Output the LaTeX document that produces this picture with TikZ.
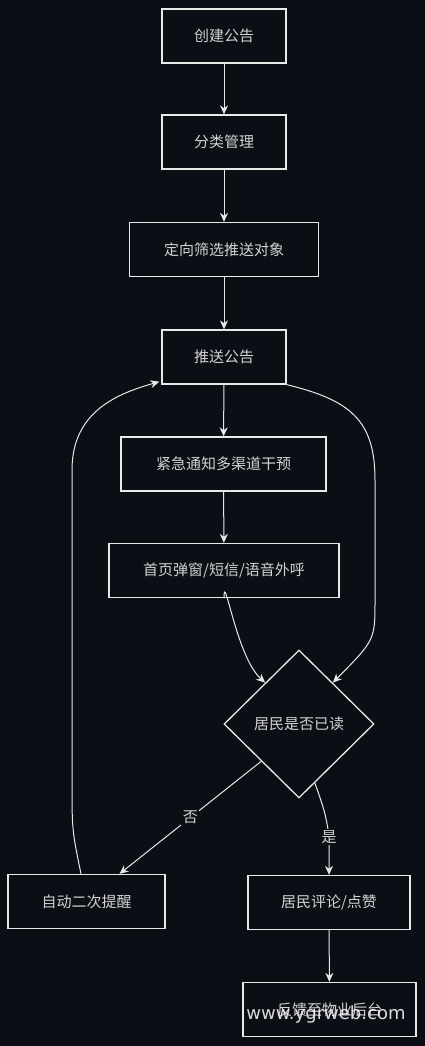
\documentclass[tikz,border=0pt]{standalone}
\usepackage{fontspec}
\newfontfamily\cjk{Noto Sans CJK SC}
\usetikzlibrary{shapes.geometric,arrows.meta,calc}
\definecolor{bg}{HTML}{0B0E14}
\definecolor{fg}{HTML}{E8E8E8}
\definecolor{txt}{HTML}{D2D2D2}
\tikzset{
  stepbox/.style={draw=fg, line width=1.3pt, fill=bg, text=txt, font=\cjk\fontsize{15}{18}\selectfont, inner sep=0pt, minimum height=54pt},
  decide/.style={draw=fg, line width=1.3pt, fill=bg, text=txt, shape=diamond, font=\cjk\fontsize{15}{18}\selectfont, inner sep=0pt, minimum width=150pt, minimum height=148pt},
  conn/.style={draw=fg, line width=1pt, -{Stealth[length=9pt,width=8pt]}},
  lbl/.style={fill=bg, text=txt, font=\cjk\fontsize{15}{18}\selectfont, inner sep=1.5pt}
}
\begin{document}
\begin{tikzpicture}[x=1pt,y=-1pt]
\fill[bg] (0,0) rectangle (425,1046);
\useasboundingbox (0,0) rectangle (425,1046);

\node[stepbox, minimum width=124pt] (create) at (224,36) {创建公告};
\node[stepbox, minimum width=124pt] (classify) at (224,142) {分类管理};
\node[stepbox, minimum width=189pt] (target) at (224,249.5) {定向筛选推送对象};
\node[stepbox, minimum width=124pt] (push) at (224,357) {推送公告};
\node[stepbox, minimum width=205pt] (urgent) at (223.5,464) {紧急通知多渠道干预};
\node[stepbox, minimum width=230pt] (popup) at (224,570.5) {首页弹窗/短信/语音外呼};
\node[decide] (read) at (299,724) {居民是否已读};
\node[stepbox, minimum width=157pt] (remind) at (86.5,901.5) {自动二次提醒};
\node[stepbox, minimum width=162pt] (comment) at (329,902.5) {居民评论/点赞};
\node[stepbox, minimum width=173pt] (feedback) at (329.5,1009.5) {反馈至物业后台};

\draw[conn] (create) -- (classify);
\draw[conn] (classify) -- (target);
\draw[conn] (target) -- (push);
\draw[conn] (push) -- (urgent);
\draw[conn] (urgent) -- (popup);
\draw[conn] (popup.south) .. controls ([yshift=30pt]popup.south) and ($(read.north west)+(-25,-30)$) .. ([shift={(4,-4)}]read.north west);
\draw[conn] (push.south east) .. controls (350,400) and (375,420) .. (375,480) -- (375,600) .. controls (375,640) .. ([shift={(-4,-4)}]read.north east);
\draw[conn] (read.south west) -- node[lbl, pos=0.5] {否} ([xshift=33pt]remind.north);
\coordinate (yesstart) at ($(read.south)!0.21!(read.east)$);
\draw[conn] (yesstart) .. controls (325,812) .. (329,835) -- node[lbl, pos=0.05] {是} (comment.north);
\draw[conn] ([xshift=-5.5pt]remind.north) .. controls (72,830) .. (72,780) -- (72,470) .. controls (72,410) and (120,393) .. ([shift={(-2,-3)}]push.south west);
\draw[conn] (comment) -- (feedback);

\node[text=white, opacity=0.85, font=\fontspec{DejaVu Sans}\fontsize{18}{20}\selectfont, inner sep=0pt] (wm) at (326,1015) {www.ygrweb.com};
\end{tikzpicture}
\end{document}
